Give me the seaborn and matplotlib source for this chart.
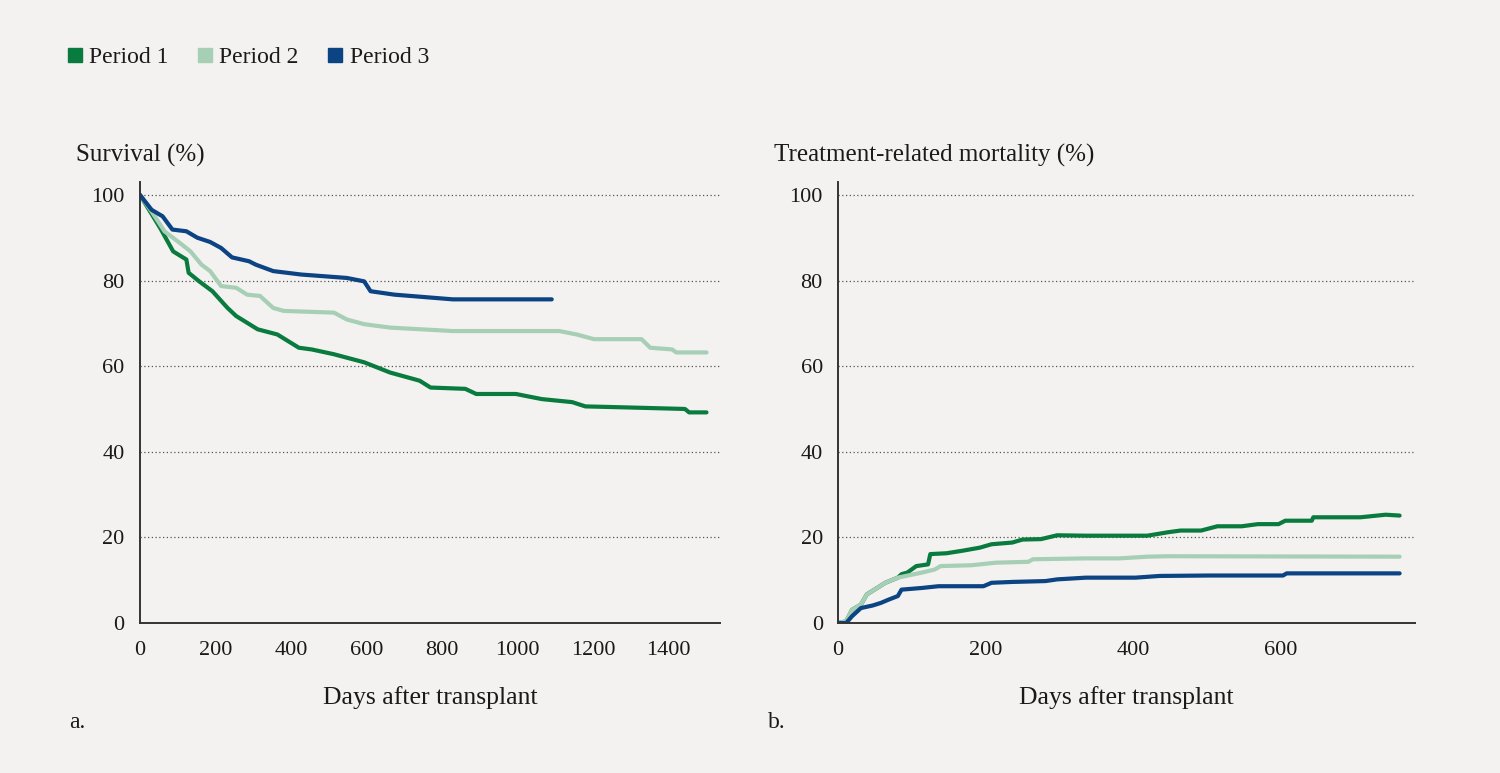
import numpy as np
import pandas as pd
import matplotlib
matplotlib.use("Agg")
import matplotlib.pyplot as plt
import seaborn as sns
from matplotlib.lines import Line2D

# ---------------- data ----------------
periods = ["Period 1", "Period 2", "Period 3"]
colors = ["#0a7b3f", "#a6cfb6", "#0b4383"]

# Panel a: survival (%)
surv_p1_days = [0, 54, 88, 123, 129, 157, 192, 232, 255, 312, 364, 421, 455, 513, 594, 663, 741, 770, 862, 891, 996, 1065, 1145, 1180, 1272, 1444, 1455, 1501]
surv_p1_vals = [100, 92.2, 86.8, 84.9, 81.8, 79.8, 77.5, 73.6, 71.7, 68.6, 67.4, 64.3, 63.9, 62.8, 60.9, 58.5, 56.6, 55.0, 54.7, 53.5, 53.5, 52.3, 51.6, 50.6, 50.4, 50.0, 49.2, 49.2]

surv_p2_days = [0, 31, 65, 111, 134, 163, 186, 215, 255, 284, 318, 353, 381, 514, 548, 594, 663, 829, 1111, 1157, 1203, 1329, 1352, 1410, 1421, 1501]
surv_p2_vals = [100, 96.1, 91.5, 88.4, 86.8, 83.7, 82.2, 78.7, 78.3, 76.7, 76.4, 73.6, 72.9, 72.5, 70.9, 69.8, 69.0, 68.2, 68.2, 67.4, 66.3, 66.3, 64.3, 63.9, 63.2, 63.2]

surv_p3_days = [0, 31, 60, 86, 123, 152, 186, 215, 244, 289, 307, 353, 427, 548, 594, 611, 674, 829, 1091]
surv_p3_vals = [100, 96.5, 95.0, 91.9, 91.5, 90.0, 89.0, 87.6, 85.4, 84.5, 83.7, 82.2, 81.4, 80.6, 79.8, 77.5, 76.7, 75.6, 75.6]

# Panel b: treatment-related mortality (%)
trm_p1_days = [0, 11, 19, 31, 39, 53, 64, 81, 86, 94, 106, 122, 125, 147, 169, 192, 208, 236, 250, 275, 297, 336, 419, 447, 464, 492, 514, 547, 569, 597, 606, 642, 644, 708, 742, 761]
trm_p1_vals = [0, 0.4, 3.1, 4.3, 6.7, 8.2, 9.4, 10.6, 11.4, 11.8, 13.3, 13.7, 16.1, 16.3, 16.9, 17.6, 18.4, 18.8, 19.5, 19.6, 20.5, 20.4, 20.4, 21.2, 21.6, 21.6, 22.6, 22.6, 23.1, 23.1, 23.9, 23.9, 24.7, 24.7, 25.3, 25.1]

trm_p2_days = [0, 11, 19, 31, 39, 53, 64, 81, 92, 114, 131, 139, 181, 214, 258, 264, 336, 381, 419, 447, 761]
trm_p2_vals = [0, 0.4, 3.1, 4.3, 6.7, 8.2, 9.4, 10.6, 11.0, 11.8, 12.5, 13.3, 13.5, 14.1, 14.3, 14.9, 15.1, 15.1, 15.5, 15.6, 15.5]

trm_p3_days = [0, 11, 19, 31, 47, 58, 69, 81, 86, 114, 136, 197, 208, 236, 281, 297, 336, 403, 436, 503, 603, 608, 761]
trm_p3_vals = [0, 0, 1.6, 3.5, 4.1, 4.7, 5.5, 6.3, 7.8, 8.2, 8.6, 8.6, 9.4, 9.6, 9.8, 10.2, 10.6, 10.6, 11.0, 11.1, 11.1, 11.6, 11.6]

y_ticks = [0, 20, 40, 60, 80, 100]
xa_ticks = [0, 200, 400, 600, 800, 1000, 1200, 1400]
xb_ticks = [0, 200, 400, 600]


def frame(days_list, vals_list):
    rows = []
    for name, d, v in zip(periods, days_list, vals_list):
        rows.append(pd.DataFrame({"day": d, "value": v, "period": name}))
    return pd.concat(rows, ignore_index=True)


df_a = frame([surv_p1_days, surv_p2_days, surv_p3_days],
             [surv_p1_vals, surv_p2_vals, surv_p3_vals])
df_b = frame([trm_p1_days, trm_p2_days, trm_p3_days],
             [trm_p1_vals, trm_p2_vals, trm_p3_vals])

# ---------------- style ----------------
bg = "#f3f2f0"
txt = "#1a1a1a"
sns.set_theme(style="white")
plt.rcParams["font.family"] = ["Liberation Serif", "DejaVu Serif"]

fig = plt.figure(figsize=(15, 7.73), dpi=100, facecolor=bg)
ax_a = fig.add_axes([0.0933, 0.194, 0.387, 0.5705])
ax_b = fig.add_axes([0.5587, 0.194, 0.3847, 0.5705])

pal = dict(zip(periods, colors))

for ax, df, xmax, xticks in [(ax_a, df_a, 1538, xa_ticks), (ax_b, df_b, 782, xb_ticks)]:
    ax.set_facecolor(bg)
    sns.lineplot(data=df, x="day", y="value", hue="period", palette=pal,
                 hue_order=periods, linewidth=3.0, ax=ax, legend=False,
                 sort=False, estimator=None)
    ax.set_xlim(0, xmax)
    ax.set_ylim(0, 103)
    ax.set_yticks(y_ticks)
    ax.set_xticks(xticks)
    ax.set_xticklabels([str(t) for t in xticks], fontsize=16, color=txt)
    ax.set_yticklabels([str(t) for t in y_ticks], fontsize=16, color=txt)
    ax.tick_params(axis="x", length=0, pad=13)
    ax.tick_params(axis="y", length=0, pad=11)
    for yv in y_ticks[1:]:
        ax.axhline(yv, color="#555555", linestyle=(0, (1, 2)), linewidth=0.9, zorder=0)
    for s in ["top", "right"]:
        ax.spines[s].set_visible(False)
    for s in ["left", "bottom"]:
        ax.spines[s].set_color("#333333")
        ax.spines[s].set_linewidth(1.4)
    ax.set_xlabel("Days after transplant", fontsize=18.5, color=txt, labelpad=19)
    ax.set_ylabel("")

fig.text(0.051, 0.791, "Survival (%)", fontsize=18, color=txt, ha="left", va="baseline")
fig.text(0.516, 0.791, "Treatment-related mortality (%)", fontsize=18, color=txt, ha="left", va="baseline")
fig.text(0.046, 0.058, "a.", fontsize=17, color=txt, ha="left", va="baseline")
fig.text(0.512, 0.058, "b.", fontsize=17, color=txt, ha="left", va="baseline")

handles = [Line2D([0], [0], marker="s", linestyle="none", markersize=10.5,
                  markerfacecolor=c, markeredgecolor=c) for c in colors]
fig.legend(handles, periods, loc="center left", bbox_to_anchor=(0.0453, 0.926),
           ncol=3, frameon=False, fontsize=17, handletextpad=0.3,
           columnspacing=1.25, handlelength=0.6, borderpad=0, borderaxespad=0,
           labelcolor=txt)

fig.savefig("out.png", dpi=100, facecolor=bg)
